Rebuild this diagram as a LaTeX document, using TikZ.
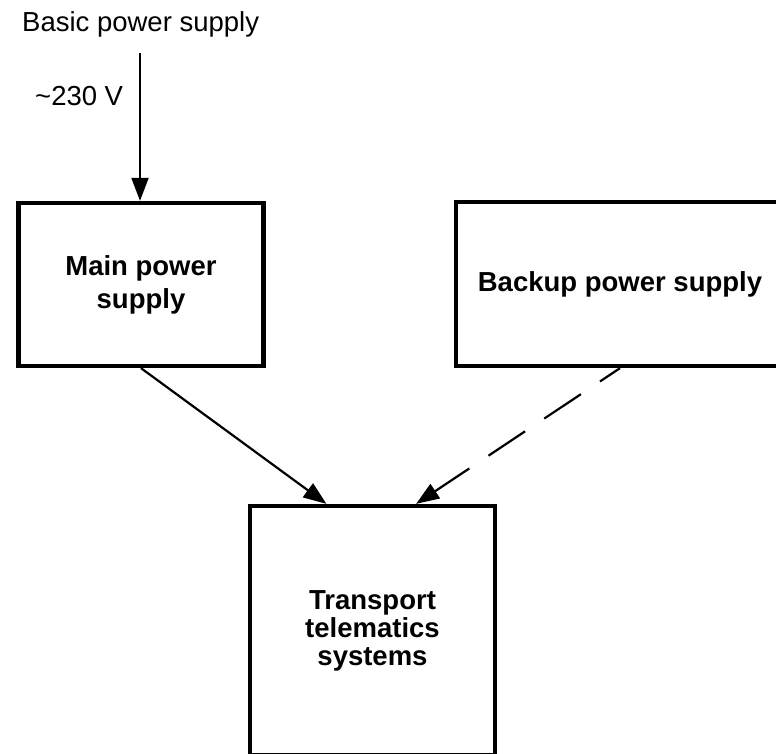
\documentclass[tikz,border=0pt]{standalone}
\usepackage{fontspec}
\setmainfont{Liberation Sans}
\usetikzlibrary{arrows.meta}

\begin{document}
\begin{tikzpicture}[x=1pt,y=-1pt]
 \tikzstyle{bnode}=[rectangle, draw, line width=4.3pt, align=center, font=\fontsize{27.5}{28}\selectfont\bfseries]
 \tikzstyle{lnode}=[inner sep=0pt, anchor=base west, font=\fontsize{27.5}{30}\selectfont]
 \tikzstyle{arr}=[line width=2.2pt, -{Triangle[length=23pt,width=17pt]}]
\useasboundingbox (0,0) rectangle (776,754);
\draw (22,32) node[lnode] (basic) {Basic power supply};
\draw (35,106) node[lnode] (volt) {\textasciitilde230 V};
\coordinate (in) at (140,53);
\draw (141,284.5) node[bnode, minimum width=245pt, minimum height=163pt] (main) {Main power\\[5pt]supply};
\draw (620,284) node[bnode, minimum width=328pt, minimum height=164pt] (backup) {Backup power supply};
\draw (372.5,630.5) node[bnode, minimum width=245pt, minimum height=249pt] (tts) {Transport\\telematics\\systems};
% \draw (in) -- (main);
\draw[arr] (in) -- (main.north -| in);
\draw[arr] (main.south) -- (tts.110);
\draw[arr, dash pattern=on 44pt off 23pt, dash phase=20pt] (backup.south) -- (tts.71);
\end{tikzpicture}
\end{document}
